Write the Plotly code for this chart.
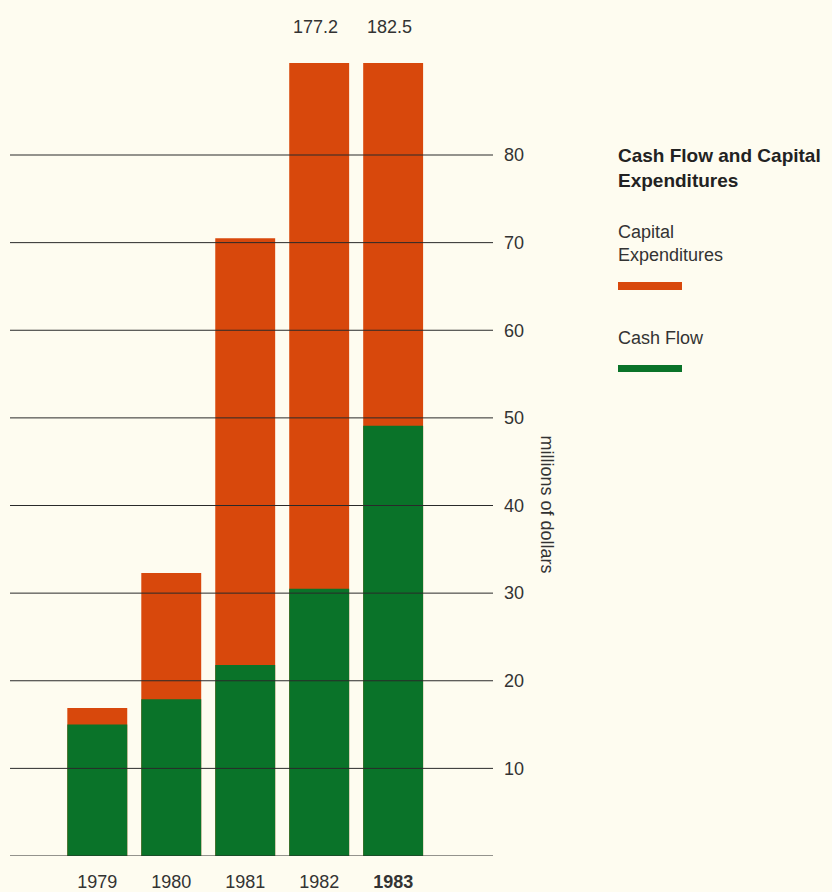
import plotly.graph_objects as go

years = [1979, 1980, 1981, 1982, 1983]
year_labels = ["1979", "1980", "1981", "1982", "<b>1983</b>"]
capital_expenditures = [16.9, 32.3, 70.5, 177.2, 182.5]
cash_flow = [15.0, 17.9, 21.8, 30.5, 49.1]
y_ticks = [10, 20, 30, 40, 50, 60, 70, 80]
grid_values = [0] + y_ticks
off_scale_labels = {1982: "177.2", 1983: "182.5"}

ORANGE = "#D8480C"
GREEN = "#0A7329"
BG = "#FEFCF0"
INK = "#333333"
FONT = "Liberation Sans, Arial, sans-serif"

fig = go.Figure()
fig.add_trace(go.Bar(x=years, y=capital_expenditures, name="Capital Expenditures",
                     marker=dict(color=ORANGE, line=dict(width=0)), width=0.81))
fig.add_trace(go.Bar(x=years, y=cash_flow, name="Cash Flow",
                     marker=dict(color=GREEN, line=dict(width=0)), width=0.81))

for v in grid_values:
    fig.add_shape(type="line", xref="paper", x0=0, x1=1, yref="y", y0=v, y1=v,
                  line=dict(color="#2a2a2a", width=1), layer="above")

for yr, txt in off_scale_labels.items():
    fig.add_annotation(x=yr - 0.05, y=1, xref="x", yref="paper", text=txt, showarrow=False,
                       yanchor="middle", yshift=36, font=dict(size=18, color=INK, family=FONT))

# axis title (reads top to bottom)
fig.add_annotation(x=1.137, y=0.443, xref="paper", yref="paper", text="millions of dollars",
                   showarrow=False, textangle=90, font=dict(size=18, color=INK, family=FONT))

# custom legend
def px_x(p):
    return (p - 10) / 483.0

def px_y(p):
    return (856 - p) / 793.0

fig.add_annotation(x=px_x(616), y=px_y(143), xref="paper", yref="paper", xanchor="left", yanchor="top",
                   align="left", showarrow=False, text="<b>Cash Flow and Capital<br>Expenditures</b>",
                   font=dict(size=19, color="#222222", family=FONT))
fig.add_annotation(x=px_x(616), y=px_y(220), xref="paper", yref="paper", xanchor="left", yanchor="top",
                   align="left", showarrow=False, text="Capital<br>Expenditures",
                   font=dict(size=18, color=INK, family=FONT))
fig.add_annotation(x=px_x(616), y=px_y(326), xref="paper", yref="paper", xanchor="left", yanchor="top",
                   align="left", showarrow=False, text="Cash Flow",
                   font=dict(size=18, color=INK, family=FONT))
fig.add_shape(type="rect", xref="paper", yref="paper", x0=px_x(618), x1=px_x(682),
              y0=px_y(290), y1=px_y(282), fillcolor=ORANGE, line=dict(width=0))
fig.add_shape(type="rect", xref="paper", yref="paper", x0=px_x(618), x1=px_x(682),
              y0=px_y(372), y1=px_y(365), fillcolor=GREEN, line=dict(width=0))

fig.update_layout(
    width=832, height=892,
    margin=dict(l=10, r=339, t=63, b=36, autoexpand=False),
    paper_bgcolor=BG, plot_bgcolor=BG,
    barmode="overlay", showlegend=False,
    font=dict(family=FONT, color=INK, size=18),
    xaxis=dict(range=[1977.82, 1984.35], tickvals=years, ticktext=year_labels,
               showgrid=False, zeroline=False, showline=False, ticks="", automargin=False,
               ticklabelstandoff=13, tickfont=dict(size=18, color=INK)),
    yaxis=dict(range=[0, 90.5], side="right", tickvals=y_ticks, showgrid=False, automargin=False,
               zeroline=False, showline=False, ticks="", ticklabelstandoff=10,
               tickfont=dict(size=18, color=INK)),
)

fig.write_html("out.html")
